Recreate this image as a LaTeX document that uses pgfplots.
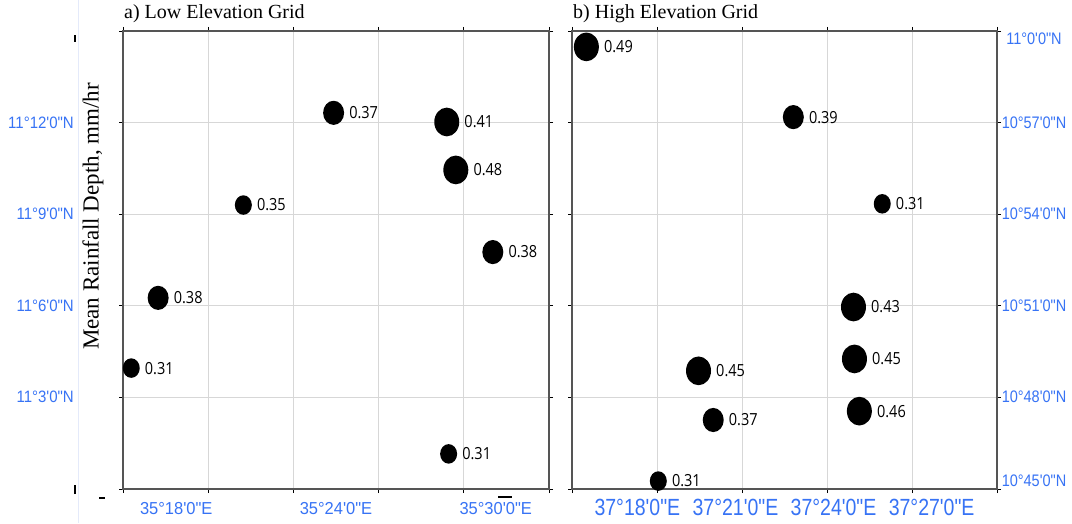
\documentclass[border=0pt]{standalone}
\usepackage{pgfplots}
\pgfplotsset{compat=1.18}
\usepackage{fontspec}
\setmainfont{Liberation Serif}
\newfontfamily\tickfont{Liberation Sans}
\newfontfamily\lblfont{Open Sans}
\definecolor{tickblue}{RGB}{55,115,245}
\definecolor{gridgray}{RGB}{215,215,215}
\definecolor{framegray}{RGB}{85,85,85}

\pgfdeclareplotmark{vell}{%
  \pgfpathellipse{\pgfpointorigin}{\pgfqpoint{\pgfplotmarksize}{0pt}}{\pgfqpoint{0pt}{1.15\pgfplotmarksize}}%
  \pgfusepathqfill}

\pgfplotsset{
  mapstyle/.style={
    scale only axis,
    height=458pt,
    clip=false,
    axis line style={framegray, line width=1.2pt},
    grid=major,
    major grid style={gridgray, line width=0.8pt},
    tick align=outside,
    major tick length=4pt,
    tick style={black, line width=0.8pt},
    ymin=0, ymax=15,
    ytick={0,3,...,15},
    title style={at={(0,1)}, anchor=base west, yshift=6pt, xshift=1pt, inner sep=0pt,
      font=\fontsize{20}{24}\selectfont},
    ticklabel style={inner sep=0pt, text=tickblue},
    extra x tick style={grid=none, major tick length=0pt},
  },
  % marker x-radius in pt as argument
  dots/.style={
    only marks, mark=vell, mark size=#1, color=black,
    point meta=explicit symbolic,
    nodes near coords,
    nodes near coords style={anchor=west, inner sep=0pt, xshift=#1pt+5pt,
      text=black, font=\lblfont\fontsize{14.5}{14.5}\selectfont, yscale=1.15},
  },
}

\begin{document}
\begin{tikzpicture}
\path[use as bounding box] (0,0) rectangle (1072pt,523pt);
\fill[white] (0,0) rectangle (1072pt,523pt);
\draw[color={rgb,255:red,228;green,234;blue,250}, line width=0.8pt] (78pt,0pt) -- (78pt,523pt);

% a) Low Elevation Grid  (x: minutes past 35 deg E, y: minutes past 11 deg N)
\begin{axis}[mapstyle,
  at={(123pt,34pt)}, anchor=south west, width=426pt,
  xmin=16, xmax=32,
  xtick={16,19.2,22.4,25.6,28.8,32},
  xticklabels={,,,,,},
  extra x ticks={18,24,30},
  extra x tick labels={35°18'0"E,35°24'0"E,35°30'0"E},
  xticklabel style={anchor=base, yshift=-25.5pt, yscale=1.05,
    font=\tickfont\fontsize{16.5}{16.5}\selectfont},
  yticklabels={,11°3'0"N,11°6'0"N,11°9'0"N,11°12'0"N,},
  yticklabel style={anchor=base east, xshift=-45pt, yshift=-5.5pt, yscale=1.1,
    font=\tickfont\fontsize{15}{15}\selectfont},
  title={a) Low Elevation Grid},
  ylabel={Mean Rainfall Depth, mm/hr},
  ylabel style={at={(axis description cs:-0.0704,0.595)}, anchor=center,
    font=\fontsize{23}{23}\selectfont},
]
\addplot[dots=8.5] coordinates {
  (20.52,9.30) [0.35]
  (16.31,3.96) [0.31]
  (28.23,1.15) [0.31]
};
\addplot[dots=10.5] coordinates {
  (23.91,12.32) [0.37]
  (29.89,7.76) [0.38]
  (17.32,6.26) [0.38]
};
\addplot[dots=12.5] coordinates {
  (28.16,12.02) [0.41]
  (28.50,10.45) [0.48]
};
\end{axis}

% b) High Elevation Grid  (x: minutes past 37 deg E, y: minutes past 10 deg 45 N)
\begin{axis}[mapstyle,
  at={(572pt,34pt)}, anchor=south west, width=425pt,
  xmin=16, xmax=29,
  xtick={16,18.6,21.2,23.8,26.4,29},
  xticklabels={,,,,,},
  extra x ticks={18,21,24,27},
  extra x tick labels={37°18'0"E,37°21'0"E,37°24'0"E,37°27'0"E},
  xticklabel style={anchor=base, yshift=-26.5pt, yscale=1.2,
    font=\tickfont\fontsize{19.5}{19.5}\selectfont},
  yticklabel pos=right,
  yticklabels={{\raisebox{7pt}{10°45'0"N}},10°48'0"N,10°51'0"N,10°54'0"N,10°57'0"N,{\raisebox{-7pt}{11°0'0"N}}},
  yticklabel style={anchor=base, xshift=33pt, yshift=-5.5pt, yscale=1.15,
    font=\tickfont\fontsize{14.5}{14.5}\selectfont},
  title={b) High Elevation Grid},
]
\addplot[dots=8.5] coordinates {
  (25.49,9.34) [0.31]
  (18.64,0.26) [0.31]
};
\addplot[dots=10.5] coordinates {
  (22.77,12.18) [0.39]
  (20.32,2.26) [0.37]
};
\addplot[dots=12.5] coordinates {
  (16.44,14.48) [0.49]
  (24.61,5.96) [0.43]
  (24.64,4.26) [0.45]
  (19.87,3.87) [0.45]
  (24.79,2.55) [0.46]
};
\end{axis}

% stray marks of the original figure
\draw[line width=1.6pt] (75pt,481pt) -- (75pt,488pt);
\draw[line width=1.6pt] (75pt,29pt) -- (75pt,38pt);
\draw[line width=1.6pt] (99pt,25pt) -- (105pt,25pt);
\draw[line width=1.4pt] (498pt,26pt) -- (512pt,26pt);
\end{tikzpicture}
\end{document}
